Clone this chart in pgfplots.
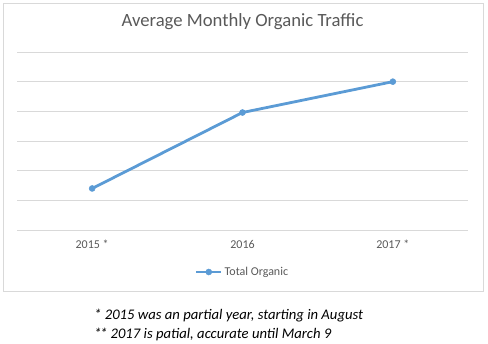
\documentclass[border=0pt]{standalone}
\usepackage{pgfplots}
\pgfplotsset{compat=1.18}
\usepackage{fontspec}
\setmainfont{Carlito}
\definecolor{txt}{HTML}{595959}
\definecolor{grd}{HTML}{D9D9D9}
\definecolor{ser}{HTML}{5B9BD5}
\begin{document}
\begin{tikzpicture}
\useasboundingbox (0,0) rectangle (488bp,344bp);
\draw[grd, line width=0.75bp] (3bp,53bp) rectangle (483bp,341bp);
\begin{axis}[
  at={(17bp,114bp)}, anchor=south west,
  scale only axis, width=451bp, height=178bp,
  xmin=-0.5, xmax=2.5, ymin=0, ymax=6,
  axis line style={draw=none},
  xtick={0,1,2}, xticklabels={2015 *,2016,2017 *},
  ytick={0,1,2,3,4,5,6}, yticklabels={},
  major tick length=0pt,
  ymajorgrids, major grid style={grd, line width=0.75bp},
  tick label style={font=\fontsize{12bp}{14bp}\selectfont, text=txt},
  xticklabel style={anchor=base, yshift=-19bp},
  title={Average Monthly Organic Traffic},
  title style={at={(0.5,1)}, anchor=base, yshift=19.7bp, font=\fontsize{18.67bp}{22bp}\selectfont, text=txt},
  legend style={at={(0.5,-0.236)}, anchor=center, draw=none, fill=none,
    font=\fontsize{12bp}{14bp}\selectfont, text=txt, inner sep=0pt},
  legend cell align=left,
  legend image code/.code={\draw[mark repeat=2,mark phase=2] plot coordinates {(0bp,0bp)(12.5bp,0bp)(25bp,0bp)};},
]
\addplot[ser, line width=2.8bp, mark=*, mark size=3bp, mark options={fill=ser, draw=ser, line width=0.5pt}] coordinates {(0,1.40) (1,3.96) (2,5.00)};
\addlegendentry{Total Organic}
\end{axis}
\node[anchor=base west, inner sep=0pt, font=\fontsize{14.67bp}{17bp}\selectfont\itshape] at (94bp,25bp) {* 2015 was an partial year, starting in August};
\node[anchor=base west, inner sep=0pt, font=\fontsize{14.67bp}{17bp}\selectfont\itshape] at (94bp,5.5bp) {*\kern-1.5bp* 2017 is patial, accurate until March 9};
\end{tikzpicture}
\end{document}
